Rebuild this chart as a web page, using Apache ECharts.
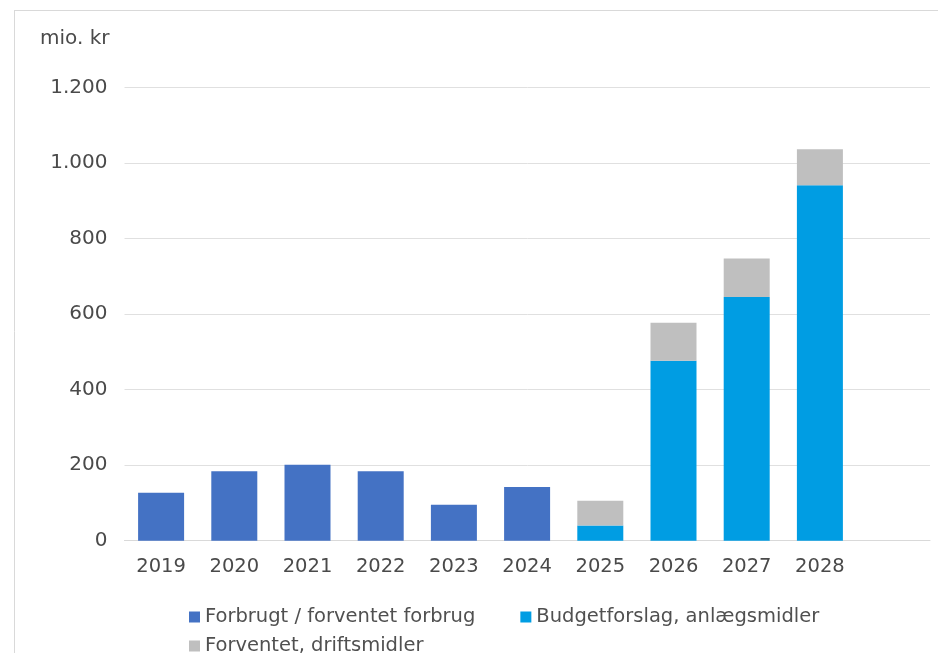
<!DOCTYPE html>
<html><head><meta charset="utf-8">
<script src="https://cdn.jsdelivr.net/npm/echarts@6/dist/echarts.min.js"></script>
<style>html,body{margin:0;padding:0;background:#fff}#c{width:938px;height:653px}</style>
</head><body><div id="c"></div>
<script>
const years = ['2019','2020','2021','2022','2023','2024','2025','2026','2027','2028'];
const forbrug = [127,184,201,184,95,142,null,null,null,null];
const anlaeg = [null,null,null,null,null,null,40,476,645,941];
const drift = [null,null,null,null,null,null,66,101,102,95];
const yTicks = [0,200,400,600,800,1000,1200];
const seriesNames = ['Forbrugt / forventet forbrug','Budgetforslag, anlægsmidler','Forventet, driftsmidler'];
const colors = ['#4472C4','#009DE3','#BFBFBF'];

const fmt = v => String(v).replace(/\B(?=(\d{3})+(?!\d))/g,'.');
const chart = echarts.init(document.getElementById('c'));
const font = 'DejaVu Sans';
const txtColor = '#4a4a4a';
const legendText = {fontSize:19.5,color:'#505050',fontFamily:font};
chart.setOption({
  animation:false,
  textStyle:{fontFamily:font},
  graphic:[
    {type:'line',shape:{x1:14,y1:10.5,x2:938,y2:10.5},style:{stroke:'#d9d9d9',lineWidth:1}},
    {type:'line',shape:{x1:14.5,y1:10,x2:14.5,y2:653},style:{stroke:'#d9d9d9',lineWidth:1}},
    {type:'text',left:40,top:29,style:{text:'mio. kr',font:'20px "DejaVu Sans"',fill:txtColor}}
  ],
  grid:[
    {left:124.5,right:938-856.5,top:87.3,bottom:653-540.7},
    {left:124.5,right:938-930,top:87.3,bottom:653-540.7}
  ],
  legend:[
    {data:seriesNames.slice(0,2),left:184,top:602,itemWidth:11,itemHeight:11,itemGap:45,itemTextGap:7,icon:'rect',textStyle:legendText},
    {data:seriesNames.slice(2),left:184,top:631,itemWidth:11,itemHeight:11,itemTextGap:7,icon:'rect',textStyle:legendText}
  ],
  xAxis:[
    {type:'category',data:years,gridIndex:0,axisTick:{show:false},axisLine:{show:false},
     axisLabel:{fontSize:19.5,color:txtColor,margin:16,fontFamily:font}},
    {type:'category',data:years,gridIndex:1,axisTick:{show:false},axisLabel:{show:false},
     axisLine:{lineStyle:{color:'#d9d9d9'}}}
  ],
  yAxis:[
    {type:'value',gridIndex:0,min:0,max:1200,interval:200,
     axisLabel:{fontSize:20,color:txtColor,margin:17,fontFamily:font,formatter:fmt},
     splitLine:{show:false},axisLine:{show:false},axisTick:{show:false}},
    {type:'value',gridIndex:1,min:0,max:1200,interval:200,
     axisLabel:{show:false},splitLine:{lineStyle:{color:'#e0e0e0',width:1}},axisLine:{show:false},axisTick:{show:false}}
  ],
  series:[
    {name:seriesNames[0],type:'bar',stack:'a',data:forbrug,barWidth:46,itemStyle:{color:colors[0]}},
    {name:seriesNames[1],type:'bar',stack:'a',data:anlaeg,barWidth:46,itemStyle:{color:colors[1]}},
    {name:seriesNames[2],type:'bar',stack:'a',data:drift,barWidth:46,itemStyle:{color:colors[2]}}
  ]
});
</script></body></html>
